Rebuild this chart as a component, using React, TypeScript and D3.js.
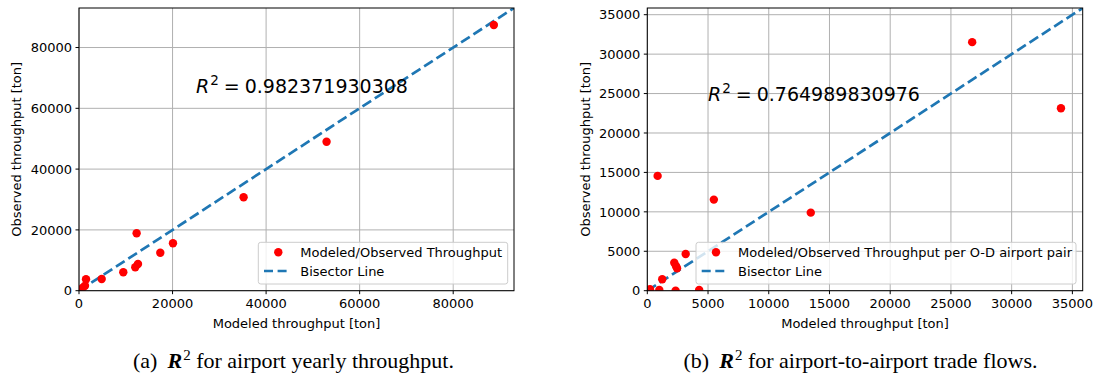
import React from "react";
import * as d3 from "d3";

// ---- Data ----
const leftModeled = [790, 1280, 1500, 4850, 9470, 12030, 12610, 12320, 17380, 20090, 35190, 52930, 88690];
const leftObserved = [990, 1650, 3750, 3850, 6050, 7700, 8780, 18880, 12500, 15600, 30720, 49020, 87420];
const leftTicks = [0, 20000, 40000, 60000, 80000];
const leftMax = 93000;

const rightModeled = [220, 990, 1230, 2330, 2220, 2360, 2450, 3160, 4270, 850, 5480, 13460, 26750, 34060];
const rightObserved = [180, 90, 1450, 0, 3550, 3130, 2850, 4660, 90, 14560, 11550, 9900, 31520, 23140];
const rightTicks = [0, 5000, 10000, 15000, 20000, 25000, 30000, 35000];
const rightMax = 35850;

const leftR2 = "0.982371930308";
const rightR2 = "0.764989830976";
const leftLegend = ["Modeled/Observed Throughput", "Bisector Line"];
const rightLegend = ["Modeled/Observed Throughput per O-D airport pair", "Bisector Line"];
const xLabel = "Modeled throughput [ton]";
const yLabel = "Observed throughput [ton]";

const FONT = "DejaVu Sans, sans-serif";
const SERIF = "Liberation Serif, Times New Roman, serif";
const BLUE = "#1f77b4";
const FS = 13;
const DASH = "10.3,4.4";
const LW = 2.7;

type PanelProps = {
  x0: number; x1: number; y0: number; y1: number;
  mx: number[]; ob: number[]; ticks: number[]; max: number;
  r2: string; r2x: number; r2y: number;
  legend: string[]; legX0: number; legX1: number; id: string;
  ylabelX: number;
};

function Panel(p: PanelProps) {
  const xs = d3.scaleLinear().domain([0, p.max]).range([p.x0, p.x1]);
  const ys = d3.scaleLinear().domain([0, p.max]).range([p.y1, p.y0]);
  const line = d3.line<number>().x((d) => xs(d)).y((d) => ys(d));
  const legY0 = 242.3, legY1 = 284;
  return (
    <g>
      <defs>
        <clipPath id={p.id}>
          <rect x={p.x0} y={p.y0} width={p.x1 - p.x0} height={p.y1 - p.y0} />
        </clipPath>
      </defs>
      {p.ticks.map((t) => (
        <g key={"g" + t}>
          <line x1={xs(t)} x2={xs(t)} y1={p.y0} y2={p.y1} stroke="#b0b0b0" strokeWidth={1} />
          <line x1={p.x0} x2={p.x1} y1={ys(t)} y2={ys(t)} stroke="#b0b0b0" strokeWidth={1} />
        </g>
      ))}
      <g clipPath={`url(#${p.id})`}>
        <path d={line([0, p.max * 1.02]) || ""} stroke={BLUE} strokeWidth={LW} strokeDasharray={DASH} fill="none" />
        {p.mx.map((v, i) => (
          <circle key={i} cx={xs(v)} cy={ys(p.ob[i])} r={4.2} fill="#ff0000" />
        ))}
      </g>
      <rect x={p.x0} y={p.y0} width={p.x1 - p.x0} height={p.y1 - p.y0} fill="none" stroke="#000" strokeWidth={1} />
      {p.ticks.map((t) => (
        <g key={"t" + t} fontFamily={FONT} fontSize={FS} fill="#000">
          <line x1={xs(t)} x2={xs(t)} y1={p.y1} y2={p.y1 + 3.5} stroke="#000" strokeWidth={1} />
          <text x={xs(t)} y={p.y1 + 17.5} textAnchor="middle">{t}</text>
          <line x1={p.x0 - 3.5} x2={p.x0} y1={ys(t)} y2={ys(t)} stroke="#000" strokeWidth={1} />
          <text x={p.x0 - 7} y={ys(t) + 4.7} textAnchor="end">{t}</text>
        </g>
      ))}
      <text x={(p.x0 + p.x1) / 2} y={327.5} textAnchor="middle" fontFamily={FONT} fontSize={FS}>{xLabel}</text>
      <text transform={`translate(${p.ylabelX},${(p.y0 + p.y1) / 2}) rotate(-90)`} textAnchor="middle" fontFamily={FONT} fontSize={FS} dy="0.35em">{yLabel}</text>
      <text x={p.r2x} y={p.r2y} fontFamily={FONT} fontSize={19}>
        <tspan fontStyle="italic">R</tspan>
        <tspan dy={-8} dx={1} fontSize={13.5}>2</tspan>
        <tspan dy={8} dx={5}>=</tspan>
        <tspan dx={5}>{p.r2}</tspan>
      </text>
      <rect x={p.legX0} y={legY0} width={p.legX1 - p.legX0} height={legY1 - legY0} rx={2.5} fill="#fff" fillOpacity={0.8} stroke="#cccccc" strokeWidth={1} />
      <circle cx={p.legX0 + 20} cy={252.3} r={4.2} fill="#ff0000" />
      <line x1={p.legX0 + 5.7} x2={p.legX0 + 28.4} y1={271} y2={271} stroke={BLUE} strokeWidth={LW} strokeDasharray="9,4.6" />
      <text x={p.legX0 + 42} y={257} fontFamily={FONT} fontSize={FS}>{p.legend[0]}</text>
      <text x={p.legX0 + 42} y={275.7} fontFamily={FONT} fontSize={FS}>{p.legend[1]}</text>
    </g>
  );
}

export default function App() {
  return (
    <svg width={1095} height={376} style={{ position: "absolute", left: 0, top: 0, background: "#fff" }}>
      <rect width={1095} height={376} fill="#fff" />
      <Panel x0={79} x1={514} y0={8} y1={290.7} mx={leftModeled} ob={leftObserved} ticks={leftTicks} max={leftMax}
        r2={leftR2} r2x={196} r2y={93} legend={leftLegend} legX0={258.3} legX1={507.7} id="clipL" ylabelX={16.7} />
      <Panel x0={647.3} x1={1082.7} y0={8} y1={290.7} mx={rightModeled} ob={rightObserved} ticks={rightTicks} max={rightMax}
        r2={rightR2} r2x={708} r2y={101} legend={rightLegend} legX0={696} legX1={1076} id="clipR" ylabelX={585} />
      <text x={293.5} y={368} textAnchor="middle" fontFamily={SERIF} fontSize={22}>
        <tspan>(a)</tspan>
        <tspan dx={10} fontStyle="italic" fontWeight="bold">R</tspan>
        <tspan dy={-8} dx={1} fontSize={15}>2</tspan>
        <tspan dy={8}> for airport yearly throughput.</tspan>
      </text>
      <text x={860.5} y={368} textAnchor="middle" fontFamily={SERIF} fontSize={22}>
        <tspan>(b)</tspan>
        <tspan dx={10} fontStyle="italic" fontWeight="bold">R</tspan>
        <tspan dy={-8} dx={1} fontSize={15}>2</tspan>
        <tspan dy={8}> for airport-to-airport trade flows.</tspan>
      </text>
    </svg>
  );
}
